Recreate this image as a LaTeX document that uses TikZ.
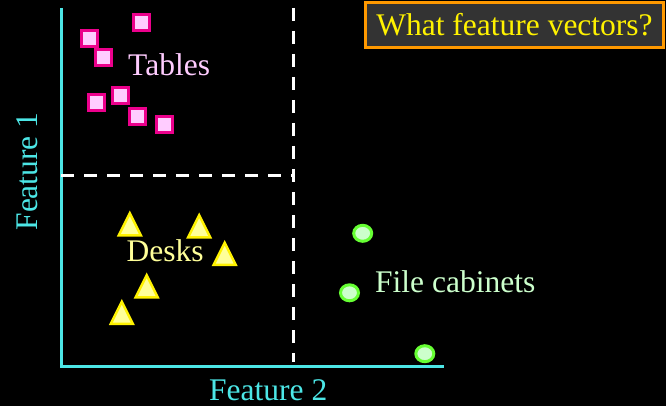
\documentclass[tikz,border=0pt]{standalone}
\usepackage{fontspec}
\setmainfont{Liberation Serif}
\usepackage{xcolor}
\usepackage{tikz}
\usetikzlibrary{positioning,shapes.geometric}

\definecolor{axiscyan}{HTML}{4CE6E6}
\definecolor{tabpink}{HTML}{FFCCFF}
\definecolor{deskfill}{HTML}{FFFF99}
\definecolor{cabgreen}{HTML}{66FF33}
\definecolor{cabfill}{HTML}{CCFFCC}
\definecolor{boxgray}{HTML}{333333}
\definecolor{boxorange}{HTML}{FF9900}

\begin{document}
\begin{tikzpicture}[
    x=1pt, y=-1pt,
    big/.style={font=\fontsize{31.5}{38}\selectfont, inner sep=0pt},
    sq/.style={rectangle, draw=magenta, fill=tabpink, line width=3pt, minimum size=16pt, inner sep=0pt},
    tri/.style={isosceles triangle, isosceles triangle stretches, shape border rotate=90,
        draw=yellow, fill=deskfill, line width=2.5pt, minimum width=22pt, minimum height=22pt,
        inner sep=0pt, anchor=apex},
    cab/.style={ellipse, draw=cabgreen, fill=cabfill, line width=3pt, minimum width=18pt,
        minimum height=16pt, inner sep=0pt},
    divider/.style={white, line width=3pt, dash pattern=on 13pt off 10pt}
]
    % Background
    \fill[black] (0,0) rectangle (666,406);
    \useasboundingbox (0,0) rectangle (666,406);

    % Axes
    \coordinate (ytop) at (61,8);
    \coordinate (xend) at (444,366);
    \draw[axiscyan, line width=3pt] (ytop) |- (xend);

    % Decision boundaries
    \coordinate (vtop) at (293,8);
    \coordinate (vbot) at (293,362);
    \coordinate (hleft) at (61,176);
    \coordinate (hright) at (293,176);
    \draw[divider] (vtop) -- (vbot);
    \draw[divider] (hleft) -- (hright);

    % Tables
    \node[sq] (t1) at (141.7,23) {};
    \node[sq] (t2) at (89.7,39) {};
    \node[sq] (t3) at (103.3,57.7) {};
    \node[sq] (t4) at (96.2,102.3) {};
    \node[sq] (t5) at (120,95.3) {};
    \node[sq] (t6) at (137.5,116.7) {};
    \node[sq] (t7) at (164.5,124.3) {};
    \node[big, text=tabpink, anchor=base west] (tables) at (128,76) {Tables};

    % Desks
    \node[tri] (d1) at (129.8,210) {};
    \node[tri] (d2) at (199.2,212) {};
    \node[tri] (d3) at (224.7,239.5) {};
    \node[tri] (d4) at (146.7,272) {};
    \node[tri] (d5) at (121.8,298.5) {};
    \node[big, text=deskfill, anchor=base west] (desks) at (126.5,261.7) {Desks};

    % File cabinets
    \node[cab] (c1) at (362.7,233.3) {};
    \node[cab] (c2) at (349.5,292.8) {};
    \node[cab] (c3) at (424.8,353.7) {};
    \node[big, text=cabfill, anchor=base west] (cabinets) at (375,292.3) {File cabinets};

    % Axis labels
    \node[big, text=axiscyan, anchor=base west] (f2) at (209,400) {Feature 2};
    \node[big, text=axiscyan, anchor=base west, rotate=90] (f1) at (37,230.7) {Feature 1};

    % Question box
    \node[big, text=yellow, fill=boxgray, draw=boxorange, line width=3pt,
        minimum width=298pt, minimum height=45pt] (q) at (514.5,25) {What feature vectors?};
\end{tikzpicture}
\end{document}
